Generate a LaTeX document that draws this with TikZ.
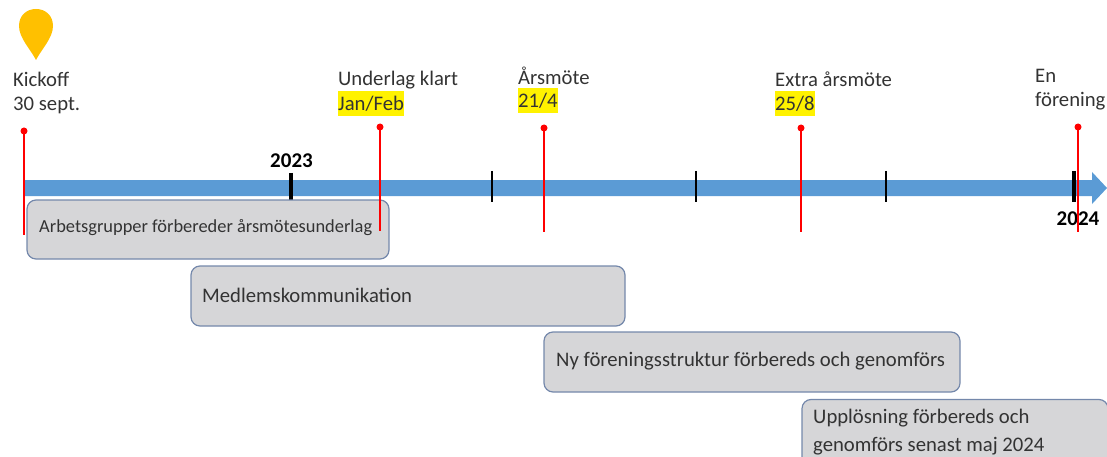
\documentclass[tikz,border=0pt]{standalone}
\usepackage{fontspec}
\setmainfont{Carlito}
\definecolor{barblue}{HTML}{5B9BD5}
\definecolor{boxgray}{HTML}{D6D6D8}
\definecolor{boxline}{HTML}{7488AB}
\definecolor{pinorange}{HTML}{FFC000}
\definecolor{txt}{HTML}{333333}
\tikzset{
  x=1pt,y=-1pt,
  phase/.style={draw=boxline,line width=1.2pt,fill=boxgray,rounded corners=9pt,anchor=north west,inner sep=0pt,outer sep=0pt},
  phasetext/.style={anchor=west,text=txt,inner sep=0pt,font=\fontsize{20.7}{25}\selectfont,align=left},
  lbl/.style={anchor=west,text=txt,inner sep=0pt,font=\fontsize{20.7}{25}\selectfont},
  hl/.style={lbl,fill=yellow,minimum height=25pt,text=txt},
  yr/.style={text=black,inner sep=0pt,font=\bfseries\fontsize{21}{25}\selectfont},
  ticklen/.style={line width=2.5pt,black},
  dot/.style={circle,fill=red,inner sep=0pt,minimum size=7pt},
}
\begin{document}
\begin{tikzpicture}
\useasboundingbox (0,0) rectangle (1107,457);
% timeline arrow
\fill[barblue] (24,180) -- (1092,180) -- (1092,172) -- (1107,188) -- (1092,204) -- (1092,196) -- (24,196) -- cycle;
% ticks
\foreach \x/\a/\b in {492/171/202,696/171/202,886/171/202}{
  \draw[ticklen] (\x,\a) -- (\x,\b);
}
\draw[line width=3.2pt,black] (291,173) -- (291,200);
\draw[line width=3.4pt,black] (1074,171) -- (1074,202);
\node[yr] (y23) at (291.5,161) {2023};
% phase boxes
\node[phase,minimum width=362pt,minimum height=59pt] (b1) at (27,200) {};
\node[phasetext,font=\fontsize{18.4}{22}\selectfont] (t1) at (39,228) {Arbetsgrupper förbereder årsmötesunderlag};
\node[phase,minimum width=434pt,minimum height=60pt] (b2) at (191,266) {};
\node[phasetext] (t2) at (202,295) {Medlemskommunikation};
\node[phase,minimum width=416pt,minimum height=60pt] (b3) at (544,332) {};
\node[phasetext] (t3) at (556,361) {Ny föreningsstruktur förbereds och genomförs};
\draw[boxline,line width=1.2pt,fill=boxgray,rounded corners=9pt] (802,480) -- (802,399.5) -- (1108,399.5) -- (1108,480);
\node[phasetext,anchor=north west,font=\fontsize{20.7}{28.7}\selectfont] (t4) at (813,408.5) {Upplösning förbereds och\\genomförs senast maj 2024};
\node[yr] (y24) at (1078,219) {2024};
% labels
\node[lbl] (k1) at (13,79) {Kickoff};
\node[lbl] (k2) at (13,105) {30 sept.};
\node[lbl] (u1) at (338,80) {Underlag klart};
\node[hl] (u2) at (338,104) {Jan/Feb};
\node[lbl] (a1) at (518,76) {Årsmöte};
\node[hl] (a2) at (518,100.5) {21/4};
\node[lbl] (e1) at (775,79) {Extra årsmöte};
\node[hl] (e2) at (775,104) {25/8};
\node[lbl] (f1) at (1035,76) {En};
\node[lbl] (f2) at (1035,101) {förening};
% milestones
\node[dot] (d1) at (24,131) {};
\coordinate (e1c) at (24,235);
\node[dot] (d2) at (380,127) {};
\coordinate (e2c) at (380,231);
\node[dot] (d3) at (544,128) {};
\coordinate (e3c) at (544,232);
\node[dot] (d4) at (801,128) {};
\coordinate (e4c) at (801,232);
\node[dot] (d5) at (1078,127) {};
\coordinate (e5c) at (1078,232);
\foreach \p/\q in {d1/e1c,d2/e2c,d3/e3c,d4/e4c,d5/e5c}{\draw[red,line width=1.8pt] (\p.center) -- (\q);}
% pin
\fill[pinorange] (36,60) .. controls (31,50) and (19,38) .. (19,26) .. controls (19,15) and (27,9) .. (36,9) .. controls (45,9) and (53,15) .. (53,26) .. controls (53,38) and (41,50) .. (36,60) -- cycle;
\end{tikzpicture}
\end{document}
